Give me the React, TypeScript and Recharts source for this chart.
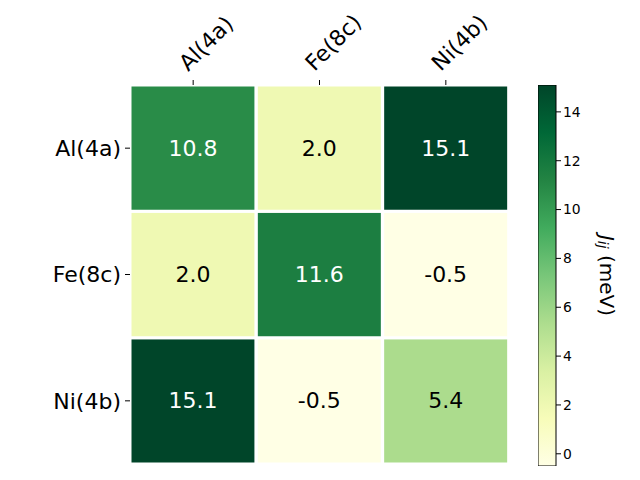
import React from "react"
import { Bar, BarChart, Cell, LabelList, XAxis, YAxis } from "recharts"

// exchange couplings J_ij (meV), one array per row of the matrix
const sites = ["Al(4a)", "Fe(8c)", "Ni(4b)"]
const alRow = [10.8, 2.0, 15.1]
const feRow = [2.0, 11.6, -0.5]
const niRow = [15.1, -0.5, 5.4]
const colorbarTicks = [0, 2, 4, 6, 8, 10, 12, 14]
const vMin = -0.5
const vMax = 15.1

const rows = [alRow, feRow, niRow]

// matplotlib YlGn
const YLGN = ["#ffffe5", "#f7fcb9", "#d9f0a3", "#addd8e", "#78c679", "#41ab5d", "#238443", "#006837", "#004529"]

function hexToRgb(h: string) {
  return [1, 3, 5].map((i) => parseInt(h.slice(i, i + 2), 16))
}

function ylgn(v: number) {
  const t = Math.min(1, Math.max(0, (v - vMin) / (vMax - vMin))) * (YLGN.length - 1)
  const i = Math.min(YLGN.length - 2, Math.floor(t))
  const f = t - i
  const a = hexToRgb(YLGN[i])
  const b = hexToRgb(YLGN[i + 1])
  const c = a.map((x, k) => Math.round(x + (b[k] - x) * f))
  return `rgb(${c[0]},${c[1]},${c[2]})`
}

const heatData = sites.map((site) => {
  const d: Record<string, any> = { site }
  sites.forEach((r) => (d[r] = 1))
  return d
})

const cbData = [{ name: "cb", span: [vMin, vMax] }]

const FONT = "DejaVu Sans"

function TopTick(props: any) {
  const { x, y, payload } = props
  return (
    <text
      transform={`translate(${x - 5},${y - 8}) rotate(-45)`}
      fontSize={22}
      fontFamily={FONT}
      fill="#000"
      textAnchor="start"
    >
      {payload.value}
    </text>
  )
}

function cellLabel(rowIdx: number) {
  return (props: any) => {
    const { x, y, width, height, index } = props
    const v = rows[rowIdx][index]
    return (
      <text
        x={x + width / 2}
        y={y + height / 2}
        textAnchor="middle"
        dominantBaseline="central"
        fontSize={22}
        fontFamily={FONT}
        fill={v > 8 ? "#fff" : "#000"}
      >
        {v.toFixed(1)}
      </text>
    )
  }
}

function CbLabel(props: any) {
  const { viewBox } = props
  const cx = viewBox.x + 51
  const cy = viewBox.y + viewBox.height / 2
  return (
    <text
      x={cx}
      y={cy}
      transform={`rotate(90, ${cx}, ${cy})`}
      textAnchor="middle"
      dominantBaseline="central"
      fontSize={20}
      fontFamily={FONT}
      fill="#000"
    >
      <tspan fontStyle="italic">J</tspan>
      <tspan fontStyle="italic" fontSize={14} dy={4}>ij</tspan>
      <tspan dy={-4}> (meV)</tspan>
    </text>
  )
}

// bottom of the stack is the last row
const stackOrder = [2, 1, 0]

export default function App() {
  return (
    <div style={{ position: "absolute", left: 0, top: 0, width: 640, height: 480, background: "#fff", fontFamily: FONT }}>
      <svg width={0} height={0} style={{ position: "absolute" }}>
        <defs>
          <linearGradient id="ylgn" x1="0" y1="1" x2="0" y2="0">
            {YLGN.map((c, i) => (
              <stop key={i} offset={i / (YLGN.length - 1)} stopColor={c} />
            ))}
          </linearGradient>
        </defs>
      </svg>

      <div style={{ position: "absolute", left: 0, top: 0 }}>
        <BarChart
          width={640}
          height={480}
          data={heatData}
          margin={{ top: 45, right: 131, bottom: 16, left: 70 }}
          barCategoryGap={0}
        >
          <XAxis
            dataKey="site"
            orientation="top"
            height={40}
            interval={0}
            tickSize={5}
            tickMargin={0}
            axisLine={false}
            tickLine={{ stroke: "#000" }}
            tick={<TopTick />}
          />
          <YAxis
            type="number"
            domain={[0, 3]}
            ticks={[0.5, 1.5, 2.5]}
            width={60}
            tickSize={5}
            tickMargin={4}
            axisLine={false}
            tickLine={{ stroke: "#000" }}
            tickFormatter={(v: number) => sites[2 - Math.floor(v)]}
            tick={{ fill: "#000", fontSize: 22, fontFamily: FONT }}
          />
          {stackOrder.map((r) => (
            <Bar key={sites[r]} dataKey={sites[r]} stackId="m" stroke="#fff" strokeWidth={3} isAnimationActive={false}>
              {rows[r].map((v, c) => (
                <Cell key={c} fill={ylgn(v)} />
              ))}
              <LabelList content={cellLabel(r)} />
            </Bar>
          ))}
        </BarChart>
      </div>

      <div style={{ position: "absolute", left: 538, top: 0 }}>
        <BarChart
          width={100}
          height={480}
          data={cbData}
          margin={{ top: 85, right: 0, bottom: 14, left: 0 }}
          barCategoryGap={0}
        >
          <XAxis dataKey="name" hide />
          <YAxis
            orientation="right"
            type="number"
            domain={[vMin, vMax]}
            ticks={colorbarTicks}
            allowDataOverflow
            width={82}
            tickSize={5}
            tickMargin={2}
            axisLine={false}
            tickLine={{ stroke: "#000" }}
            tick={{ fill: "#000", fontSize: 13.9, fontFamily: FONT }}
            label={<CbLabel />}
          />
          <Bar dataKey="span" fill="url(#ylgn)" stroke="#000" strokeWidth={1} isAnimationActive={false} />
        </BarChart>
      </div>
    </div>
  )
}
